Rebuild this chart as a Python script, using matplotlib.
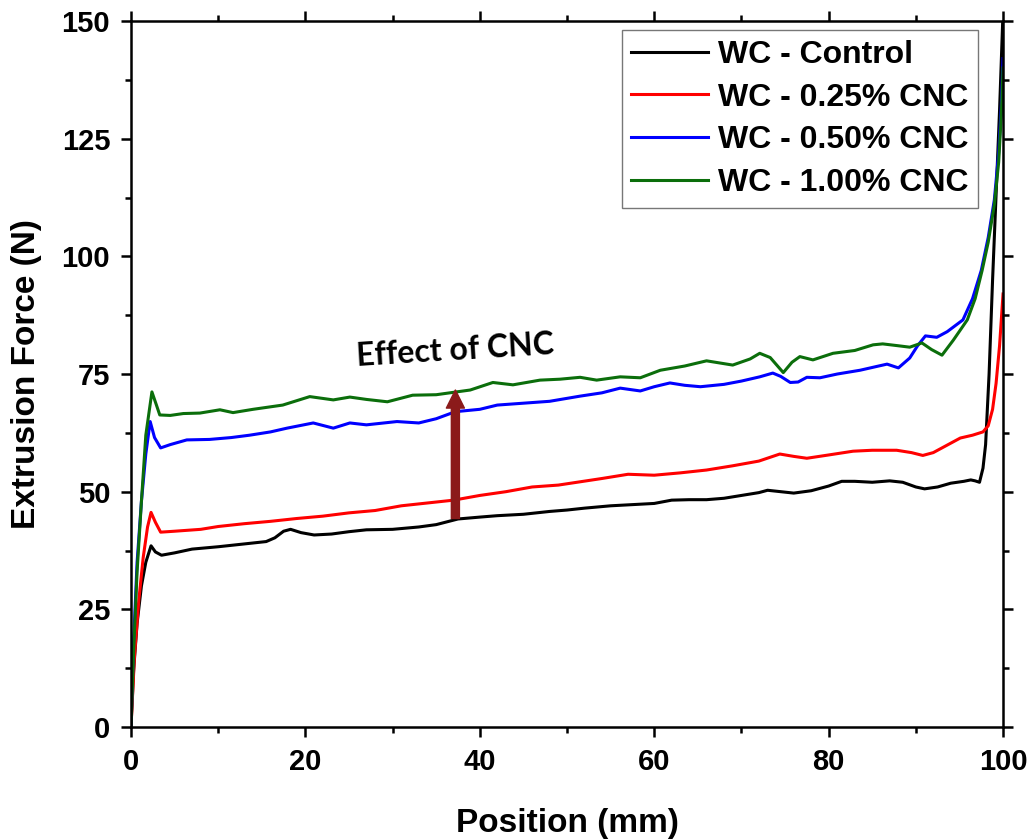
import matplotlib
matplotlib.use('Agg')
import matplotlib.pyplot as plt
from matplotlib.ticker import MultipleLocator

# ---- data ----
ctrl_x = [0, 0.3, 0.7, 1.2, 1.7, 2.3, 2.8, 3.5, 5, 7, 10, 13, 15.5, 16.5, 17.5, 18.3, 19.5, 21, 23, 25,
          27, 30, 33, 35, 37.5, 40, 42, 45, 48, 50, 52, 55, 58, 60, 62, 64, 66, 68, 70, 72, 73, 74.5,
          76, 78, 80, 81.5, 83, 85, 87, 88.5, 90, 91, 92.5, 94, 95.5, 96.3, 96.8, 97.3, 97.7, 98.0,
          98.4, 98.8, 99.2, 99.6, 100]
ctrl_y = [0, 12, 22, 30, 35, 38.5, 37.2, 36.5, 37, 37.8, 38.3, 38.9, 39.4, 40.2, 41.6, 42.0, 41.3, 40.8,
          41.0, 41.5, 41.9, 42.0, 42.5, 43.0, 44.2, 44.6, 44.9, 45.2, 45.8, 46.1, 46.5, 47.0, 47.3, 47.5,
          48.2, 48.3, 48.3, 48.6, 49.2, 49.8, 50.3, 50.0, 49.7, 50.2, 51.2, 52.2, 52.2, 52.0, 52.3, 52.0,
          51.0, 50.6, 51.0, 51.8, 52.2, 52.5, 52.3, 52.0, 55, 60, 75, 95, 113, 131, 152]

c025_x = [0, 0.4, 0.9, 1.4, 1.9, 2.3, 2.8, 3.4, 5, 8, 10, 13, 16, 19, 22, 25, 28, 31, 34, 37, 40, 43,
          46, 49, 51.5, 54, 57, 60, 63, 66, 69, 72, 74.4, 76, 77.5, 80, 82.8, 85, 87.8, 89.5, 90.8, 92,
          93.5, 95.1, 96.5, 97.7, 98.3, 98.8, 99.2, 99.6, 100]
c025_y = [0, 15, 27, 36, 42.5, 45.6, 43.5, 41.4, 41.6, 42.0, 42.6, 43.2, 43.7, 44.3, 44.8, 45.5, 46.0,
          47.0, 47.6, 48.2, 49.2, 50.0, 51.0, 51.4, 52.1, 52.8, 53.7, 53.5, 54.0, 54.6, 55.5, 56.5, 58.0,
          57.5, 57.1, 57.8, 58.6, 58.8, 58.8, 58.3, 57.7, 58.3, 59.8, 61.4, 62.0, 62.7, 64, 67.5, 73, 81, 92]

c050_x = [0, 0.3, 0.7, 1.2, 1.7, 2.2, 2.7, 3.4, 4.5, 6.4, 9, 11.5, 13.6, 16, 17.9, 20.9, 23.2, 25.1,
          27, 30.5, 33, 35, 37.2, 40, 42, 45, 48, 51.5, 54, 56.1, 58.4, 60, 61.8, 63.5, 65.3, 68, 70,
          72.1, 73.6, 74.5, 75.6, 76.5, 77.5, 79, 81, 83.6, 85.5, 86.7, 88, 89.3, 90.2, 91.1, 92.4, 93.6,
          95.4, 96.5, 97.5, 98.3, 99, 99.5, 99.8, 100]
c050_y = [0, 18, 35, 48, 58, 64.9, 61.5, 59.3, 60.0, 61.0, 61.1, 61.5, 62.0, 62.7, 63.5, 64.6, 63.5,
          64.6, 64.2, 64.9, 64.6, 65.5, 67.0, 67.5, 68.4, 68.8, 69.2, 70.3, 71.0, 72.0, 71.4, 72.3, 73.1,
          72.6, 72.3, 72.8, 73.5, 74.4, 75.2, 74.5, 73.2, 73.3, 74.3, 74.2, 75.0, 75.8, 76.6, 77.1, 76.3,
          78.4, 81.0, 83.1, 82.8, 84.0, 86.5, 91, 97, 104, 112, 122, 132, 142]

c100_x = [0, 0.3, 0.7, 1.2, 1.7, 2.4, 2.9, 3.3, 4.5, 6, 7.9, 10.2, 11.7, 14, 17.4, 20.5, 23.2, 25.1,
          27, 29.4, 32.3, 35, 38.9, 41.5, 43.8, 46.9, 49.2, 51.5, 53.4, 56.1, 58.4, 60.7, 63.5, 66, 69,
          71.0, 72.1, 73.3, 74.8, 75.8, 76.7, 78.2, 80.5, 83, 85.1, 86.2, 88, 89.3, 90.7, 91.8, 93, 94.3,
          95.9, 96.8, 97.6, 98.3, 99, 99.5, 99.8, 100]
c100_y = [0, 16, 33, 48, 62, 71.2, 68.5, 66.3, 66.2, 66.6, 66.7, 67.4, 66.8, 67.5, 68.4, 70.2, 69.5,
          70.1, 69.6, 69.1, 70.5, 70.6, 71.6, 73.2, 72.7, 73.7, 73.9, 74.3, 73.7, 74.4, 74.2, 75.8, 76.7,
          77.8, 76.9, 78.2, 79.4, 78.5, 75.3, 77.5, 78.7, 78.0, 79.4, 80.0, 81.2, 81.4, 81.0, 80.7, 81.6,
          80.2, 79.0, 82.2, 86.5, 91, 97, 103, 111, 120, 130, 140]

labels = ['WC - Control', 'WC - 0.25% CNC', 'WC - 0.50% CNC', 'WC - 1.00% CNC']
colors = ['black', '#ff0000', '#0000ff', '#0b6e0b']

arrow_x = 37.2
arrow_from = 44.3
arrow_to = 71.6

tick_font = ['Liberation Sans', 'DejaVu Sans']
label_font = ['Liberation Sans', 'DejaVu Sans']

fig = plt.figure(figsize=(10.33, 8.4), dpi=100)
ax = fig.add_axes([0.1268, 0.1345, 0.8442, 0.8405])

series = [(ctrl_x, ctrl_y), (c025_x, c025_y), (c050_x, c050_y), (c100_x, c100_y)]
for (xs, ys), lb, c in zip(series, labels, colors):
    ax.plot(xs, ys, color=c, lw=2.2, label=lb)

ax.set_xlim(0, 100)
ax.set_ylim(0, 150)
ax.xaxis.set_major_locator(MultipleLocator(20))
ax.xaxis.set_minor_locator(MultipleLocator(10))
ax.yaxis.set_major_locator(MultipleLocator(25))
ax.yaxis.set_minor_locator(MultipleLocator(12.5))
ax.tick_params(which='both', direction='out', top=True, right=True, width=1.8)
ax.tick_params(which='major', length=7, pad=8)
ax.tick_params(which='minor', length=4.5)
for s in ax.spines.values():
    s.set_linewidth(1.8)
for t in ax.get_xticklabels() + ax.get_yticklabels():
    t.set_family(tick_font)
    t.set_fontweight('bold')
    t.set_fontsize(21)

ax.set_xlabel('Position (mm)', fontsize=24, fontweight='bold', family=label_font, labelpad=23)
ax.set_ylabel('Extrusion Force (N)', fontsize=24, fontweight='bold', family=label_font, labelpad=14)

leg = ax.legend(loc='upper right', bbox_to_anchor=(0.971, 0.987), fancybox=False, framealpha=1,
                edgecolor='#777777', handlelength=2.4, handletextpad=0.3, labelspacing=0.4,
                borderaxespad=0, borderpad=0.3,
                prop={'family': label_font, 'weight': 'bold', 'size': 23})
leg.get_frame().set_linewidth(1.0)

ax.annotate('', xy=(arrow_x, arrow_to), xytext=(arrow_x, arrow_from),
            arrowprops=dict(width=5.8, headwidth=13, headlength=13, color='#8b1a1a', shrink=0))
ax.text(37.2, 80.0, 'Effect of CNC', fontsize=23, fontweight='bold', family=['Lato', 'DejaVu Sans'],
        rotation=3.5, ha='center', va='center')

plt.savefig('out.png', dpi=100)
